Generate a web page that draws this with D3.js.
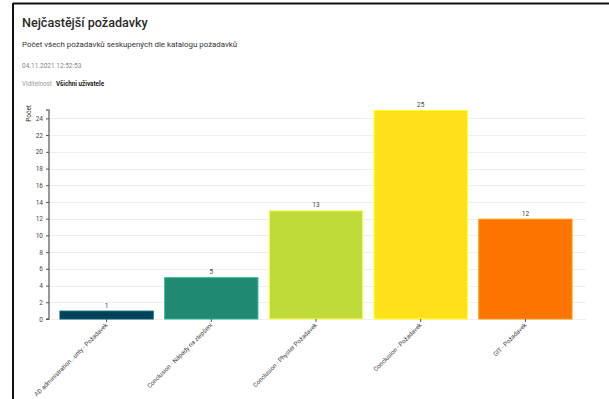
<!DOCTYPE html>
<html><head><meta charset="utf-8">
<script src="https://cdn.jsdelivr.net/npm/d3@7"></script>
<style>
html,body{margin:0;padding:0;background:#fff;}
svg{display:block;font-family:Roboto,"Noto Sans",sans-serif;}
</style></head>
<body><svg id="c" width="609" height="399"></svg>
<script>
const categories = ["AD administration...unty - Požadavek","Conclusion - Nápady na zlepšení","Conclusion - Physter Požadavek","Conclusion - Požadavek","GIT - Požadavek"];
const values = [1,5,13,25,12];
const colors = ["#004358","#1f8a70","#bedb39","#ffe11a","#fd7400"];
const yTicks = [0,2,4,6,8,10,12,14,16,18,20,22,24];
const title = "Nejčastější požadavky";
const subtitle = "Počet všech požadavků seskupených dle katalogu požadavků";
const dateText = "04.11.2021 12:52:53";
const visLabel = "Viditelnost";
const visValue = "Všichni uživatele";
const yLabel = "Počet";

const svg = d3.select("#c");
// frame
svg.append("line").attr("x1",13).attr("x2",609).attr("y1",3.5).attr("y2",3.5).attr("stroke","#111").attr("stroke-width",2);
svg.append("line").attr("x1",13).attr("x2",13).attr("y1",3).attr("y2",399).attr("stroke","#111").attr("stroke-width",2);

svg.append("text").attr("x",22).attr("y",27).attr("font-size",12.6).attr("font-weight",500).attr("fill","#2a2a2a").text(title);
svg.append("text").attr("x",22).attr("y",47).attr("font-size",7.9).attr("fill","#333").text(subtitle);
svg.append("text").attr("x",22).attr("y",67.5).attr("font-size",6.5).attr("fill","#888").text(dateText);
const vt = svg.append("text").attr("x",22).attr("y",86).attr("font-size",6.3);
vt.append("tspan").attr("fill","#999").text(visLabel);
vt.append("tspan").attr("dx",4).attr("fill","#222").attr("font-weight",700).text(visValue);

const x0=49, x1=583, yTop=110, yBot=319;
const x = d3.scaleBand().domain(categories).range([x0,x1]).paddingInner(0.1).paddingOuter(0.1);
const y = d3.scaleLinear().domain([0,25]).range([yBot,yTop]);

// grid
svg.append("g").selectAll("line").data(yTicks).join("line")
  .attr("x1",x0).attr("x2",586).attr("y1",d=>Math.round(y(d))+0.5).attr("y2",d=>Math.round(y(d))+0.5)
  .attr("stroke","#eeeeee").attr("stroke-width",1);

// bars
svg.append("g").selectAll("rect").data(values).join("rect")
  .attr("x",(d,i)=>x(categories[i])+0.5).attr("width",x.bandwidth()-1)
  .attr("y",d=>y(d)+0.5).attr("height",d=>yBot-y(d)-0.5)
  .attr("fill",(d,i)=>colors[i])
  .attr("stroke",(d,i)=>d3.color(colors[i]).brighter(0.8)).attr("stroke-width",1);

// value labels
svg.append("g").selectAll("text").data(values).join("text")
  .attr("x",(d,i)=>x(categories[i])+x.bandwidth()/2).attr("y",d=>y(d)-3)
  .attr("text-anchor","middle").attr("font-size",6.5).attr("fill","#444").text(d=>d);

// y axis
const ya = d3.axisLeft(y).tickValues(yTicks).tickSize(3).tickPadding(3);
const gy = svg.append("g").attr("transform",`translate(${x0},0)`).call(ya);
gy.select(".domain").attr("stroke","#777").attr("stroke-width",1.5).attr("d",`M-3,${yTop}H0V${yBot}H-3`);
gy.selectAll(".tick line").attr("stroke","#555");
gy.selectAll(".tick text").attr("font-size",6.5).attr("fill","#444").attr("font-family","Roboto,sans-serif");

svg.append("text").attr("transform",`translate(31,105) rotate(-90)`).attr("text-anchor","end")
  .attr("font-size",6.5).attr("fill","#333").text(yLabel);

// x axis
const xa = d3.axisBottom(x).tickSize(3).tickPadding(2);
const gx = svg.append("g").attr("transform",`translate(0,${yBot})`).call(xa);
gx.select(".domain").remove();
gx.selectAll(".tick line").attr("stroke","#555");
gx.selectAll(".tick text").attr("font-size",6.2).attr("fill","#444").attr("font-family","Roboto,sans-serif")
  .attr("text-anchor","end").attr("dy","0.35em").attr("transform","translate(0,5) rotate(-45)").attr("y",0).attr("x",0);
</script></body></html>
